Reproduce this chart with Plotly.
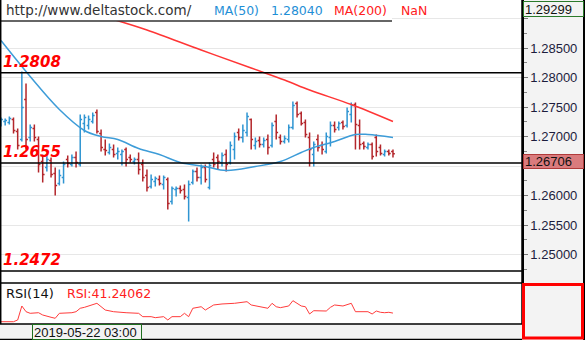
import plotly.graph_objects as go

# ---------------- data ----------------
bar_index = list(range(95))
open_ = [1.27220, 1.27254, 1.27237, 1.27288, 1.27085, 1.26949, 1.27627, 1.26983, 1.27136, 1.26949,
         1.26576, 1.26475, 1.26593, 1.26373, 1.26203, 1.26305, 1.26610, 1.26525, 1.26644, 1.26525,
         1.27220, 1.27186, 1.27254, 1.27407, 1.27051, 1.26780, 1.26729, 1.26780, 1.26712, 1.26695,
         1.26780, 1.26644, 1.26576, 1.26610, 1.26525, 1.26339, 1.26153, 1.26237, 1.26271, 1.26186,
         1.26271, 1.25898, 1.26102, 1.26119, 1.26102, 1.25966, 1.26220, 1.26407, 1.26305, 1.26475,
         1.26136, 1.26610, 1.26644, 1.26559, 1.26695, 1.26559, 1.26780, 1.27068, 1.26983, 1.27068,
         1.27288, 1.26847, 1.26932, 1.26864, 1.26949, 1.26847, 1.27254, 1.26983, 1.26915, 1.26949,
         1.27153, 1.27559, 1.27390, 1.27237, 1.26983, 1.26695, 1.26949, 1.26847, 1.26746, 1.26983,
         1.27186, 1.27153, 1.27237, 1.27186, 1.27373, 1.27542, 1.27186, 1.26881, 1.26814, 1.26864,
         1.26983, 1.26814, 1.26695, 1.26746, 1.26746]
high = [1.27322, 1.27305, 1.27339, 1.27322, 1.27136, 1.28102, 1.27898, 1.27203, 1.27203, 1.27000,
        1.26695, 1.26678, 1.26644, 1.26475, 1.26441, 1.26576, 1.26678, 1.26695, 1.26746, 1.27373,
        1.27373, 1.27356, 1.27407, 1.27458, 1.27119, 1.26949, 1.26881, 1.26864, 1.26814, 1.26780,
        1.26814, 1.26695, 1.26644, 1.26729, 1.26610, 1.26441, 1.26356, 1.26322, 1.26339, 1.26339,
        1.26305, 1.26153, 1.26153, 1.26169, 1.26186, 1.26254, 1.26441, 1.26475, 1.26525, 1.26525,
        1.26559, 1.26729, 1.26695, 1.26729, 1.26780, 1.26915, 1.27068, 1.27136, 1.27203, 1.27407,
        1.27305, 1.26983, 1.27000, 1.26983, 1.27034, 1.27237, 1.27373, 1.27034, 1.27017, 1.27203,
        1.27593, 1.27593, 1.27424, 1.27288, 1.27068, 1.26915, 1.27034, 1.26915, 1.27068, 1.27254,
        1.27254, 1.27254, 1.27271, 1.27492, 1.27576, 1.27576, 1.27288, 1.26915, 1.26898, 1.26898,
        1.27034, 1.26864, 1.26780, 1.26780, 1.26780]
low = [1.27169, 1.27186, 1.27203, 1.27051, 1.26780, 1.26915, 1.26780, 1.26915, 1.26915, 1.26390,
       1.26220, 1.26407, 1.26305, 1.26000, 1.26169, 1.26203, 1.26475, 1.26492, 1.26475, 1.26492,
       1.27068, 1.27119, 1.27220, 1.27051, 1.26746, 1.26678, 1.26695, 1.26644, 1.26610, 1.26508,
       1.26492, 1.26559, 1.26525, 1.26356, 1.26237, 1.26068, 1.26119, 1.26153, 1.26169, 1.26102,
       1.25763, 1.25847, 1.25983, 1.26034, 1.25932, 1.25559, 1.26186, 1.26237, 1.26186, 1.26220,
       1.26102, 1.26475, 1.26441, 1.26492, 1.26407, 1.26525, 1.26610, 1.26932, 1.26898, 1.27000,
       1.26780, 1.26780, 1.26814, 1.26814, 1.26695, 1.26814, 1.26949, 1.26864, 1.26881, 1.26898,
       1.27119, 1.27322, 1.27186, 1.26983, 1.26492, 1.26492, 1.26746, 1.26695, 1.26712, 1.26830,
       1.27068, 1.27102, 1.27119, 1.27153, 1.27237, 1.26780, 1.26780, 1.26780, 1.26780, 1.26610,
       1.26661, 1.26678, 1.26661, 1.26678, 1.26644]
close = [1.27288, 1.27271, 1.27305, 1.27102, 1.26847, 1.27492, 1.26949, 1.27153, 1.26983, 1.26525,
         1.26356, 1.26610, 1.26356, 1.26169, 1.26339, 1.26525, 1.26542, 1.26644, 1.26559, 1.27288,
         1.27322, 1.27288, 1.27356, 1.27085, 1.26814, 1.26763, 1.26814, 1.26695, 1.26746, 1.26746,
         1.26610, 1.26610, 1.26610, 1.26441, 1.26305, 1.26136, 1.26271, 1.26288, 1.26203, 1.26305,
         1.25864, 1.26119, 1.26119, 1.26085, 1.25983, 1.26186, 1.26407, 1.26305, 1.26475, 1.26271,
         1.26508, 1.26525, 1.26576, 1.26678, 1.26525, 1.26847, 1.27000, 1.26983, 1.27102, 1.27339,
         1.26949, 1.26915, 1.26864, 1.26932, 1.26814, 1.27186, 1.27068, 1.26915, 1.26966, 1.27153,
         1.27525, 1.27373, 1.27220, 1.27034, 1.26780, 1.26864, 1.26814, 1.26780, 1.27000, 1.27186,
         1.27119, 1.27220, 1.27170, 1.27424, 1.27525, 1.27203, 1.26864, 1.26830, 1.26864, 1.26661,
         1.26746, 1.26712, 1.26746, 1.26712, 1.26706]

ma50_idx = [0, 7, 14, 20, 24, 28, 33, 38, 43, 49, 54, 61, 67, 72, 75, 80, 85, 88, 94]
ma50_val = [1.28627, 1.28017, 1.27458, 1.27102, 1.27000, 1.26949, 1.26797, 1.26695, 1.26559, 1.26492,
            1.26424, 1.26492, 1.26576, 1.26729, 1.26814, 1.26915, 1.27034, 1.27034, 1.26983]

ma200_idx = [27, 35, 48, 60, 68, 74, 84, 94]
ma200_val = [1.28983, 1.28805, 1.28466, 1.28161, 1.27958, 1.27788, 1.27542, 1.27254]

rsi_idx = [0, 3, 4, 5, 6, 7, 9, 10, 12, 13, 14, 16, 17, 18, 19, 20, 23, 25, 27, 30, 33, 34, 36, 37, 39,
           40, 41, 43, 44, 45, 46, 48, 49, 51, 53, 56, 59, 60, 62, 64, 65, 66, 67, 69, 70, 71, 72, 73,
           74, 75, 77, 78, 79, 80, 82, 84, 85, 87, 88, 89, 90, 91, 92, 93, 94]
rsi_val = [28.4, 28.4, 31.0, 51.8, 43.3, 40.9, 41.8, 38.4, 35.0, 33.5, 40.9, 40.9, 41.8, 43.3, 48.4,
           49.8, 55.8, 45.8, 43.3, 41.8, 40.9, 35.9, 35.9, 34.4, 35.9, 31.0, 35.9, 35.9, 40.9, 35.9,
           48.4, 50.7, 45.8, 53.3, 54.8, 55.8, 58.2, 53.3, 50.7, 48.4, 55.8, 50.7, 49.3, 51.8, 59.7,
           55.8, 51.8, 50.7, 39.9, 44.8, 44.8, 44.3, 49.8, 53.3, 51.8, 55.8, 43.3, 43.3, 43.3, 39.9,
           44.3, 42.4, 41.8, 42.4, 41.24]

levels = [1.2808, 1.2655, 1.2472]
level_labels = ["1.2808", "1.2655", "1.2472"]

price_ticks = [1.250, 1.255, 1.260, 1.265, 1.270, 1.275, 1.280, 1.285, 1.290]
hidden_ticks = [1.265, 1.290]   # covered by the price boxes in the reference

last_price = 1.26706
top_price = 1.29299
header_url = "http://www.deltastock.com/"
ma50_label, ma50_text = "MA(50)", "1.28040"
ma200_label, ma200_text = "MA(200)", "NaN"
rsi_label, rsi_text = "RSI(14)", "RSI:41.24062"
date_label = "2019-05-22 03:00"

# ---------------- geometry helpers ----------------
PW, PH = 522.0, 324.0  # plot area in pixels


def px(xp):
    return xp / PW


def py(yp):
    return 1 - yp / PH


fig = go.Figure()
fig.add_trace(go.Ohlc(
    x=bar_index, open=open_, high=high, low=low, close=close,
    increasing=dict(line=dict(color="#2f95d2", width=1.5)),
    decreasing=dict(line=dict(color="#b3262b", width=1.5)),
    tickwidth=0.45, hoverinfo="skip", showlegend=False, xaxis="x", yaxis="y"))
fig.add_trace(go.Scatter(x=ma50_idx, y=ma50_val, mode="lines",
                         line=dict(color="#3d9cd8", width=1.5, shape="spline"),
                         hoverinfo="skip", showlegend=False, yaxis="y"))
fig.add_trace(go.Scatter(x=ma200_idx, y=ma200_val, mode="lines",
                         line=dict(color="#ff3535", width=1.5, shape="spline"),
                         hoverinfo="skip", showlegend=False, yaxis="y"))
fig.add_trace(go.Scatter(x=rsi_idx, y=rsi_val, mode="lines",
                         line=dict(color="#ff3b3b", width=1),
                         hoverinfo="skip", showlegend=False, yaxis="y2"))

shapes = []
# header box
shapes.append(dict(type="rect", xref="paper", yref="paper", x0=0, x1=px(392), y0=py(21), y1=1,
                   fillcolor="white", line=dict(width=0), layer="above"))
shapes.append(dict(type="line", xref="paper", yref="paper", x0=0, x1=px(392), y0=py(21), y1=py(21),
                   line=dict(color="#333333", width=1.5), layer="above"))
# level lines
for lv in levels:
    shapes.append(dict(type="line", xref="x domain", yref="y", x0=0, x1=1, y0=lv, y1=lv,
                       line=dict(color="black", width=1.5), layer="above"))
# frame lines
for yp in (283, 324, 339.5):
    shapes.append(dict(type="line", xref="paper", yref="paper", x0=0, x1=1, y0=py(yp), y1=py(yp),
                       line=dict(color="black", width=1.5), layer="above"))
shapes.append(dict(type="line", xref="paper", yref="paper", x0=px(0.7), x1=px(0.7), y0=0, y1=1,
                   line=dict(color="black", width=1.5), layer="above"))
shapes.append(dict(type="line", xref="paper", yref="paper", x0=1, x1=1, y0=0, y1=1,
                   line=dict(color="black", width=1.5), layer="above"))
shapes.append(dict(type="line", xref="paper", yref="paper", x0=px(584), x1=px(584), y0=py(340), y1=1,
                   line=dict(color="black", width=2), layer="above"))
# red box on rsi axis
shapes.append(dict(type="rect", xref="paper", yref="paper", x0=px(523.5), x1=px(582.5),
                   y0=py(338), y1=py(284.5), line=dict(color="#ff0000", width=3), layer="above"))

ann = []
hdr_y = py(10)


def txt(x, y, s, color, size=13, family="DejaVu Sans", **kw):
    d = dict(xref="paper", yref="paper", x=px(x), y=y, text=s, showarrow=False,
             xanchor="left", yanchor="middle", font=dict(family=family, size=size, color=color))
    d.update(kw)
    return d


ann.append(txt(4, hdr_y, header_url, "#333333", size=13.5))
ann.append(txt(212, hdr_y, ma50_label, "#1f8fd6", size=12.5))
ann.append(txt(269, hdr_y, ma50_text, "#1f8fd6", size=12.5))
ann.append(txt(332, hdr_y, ma200_label, "#ff2020", size=12.5))
ann.append(txt(399, hdr_y, ma200_text, "#ff2020", size=12.5))

for lv, lab in zip(levels, level_labels):
    ann.append(dict(xref="paper", yref="y", x=px(1), y=lv, text="<b><i>" + lab + "</i></b>",
                    showarrow=False, xanchor="left", yanchor="bottom",
                    font=dict(family="DejaVu Sans", size=15, color="#ff0000")))

ann.append(txt(4, py(293), rsi_label, "#111111", size=13))
ann.append(txt(65, py(293), rsi_text, "#ff2020", size=12.5))

ann.append(dict(xref="paper", yref="paper", x=px(32), y=py(324.5), text=date_label, showarrow=False,
                xanchor="left", yanchor="top", width=106, height=12, align="left",
                bgcolor="#f3f3f3", bordercolor="#1e6e1e", borderwidth=1, borderpad=1,
                font=dict(family="Liberation Sans", size=13, color="#111111")))

ann.append(dict(xref="paper", yref="y", x=px(523), y=top_price, text=f"{top_price:.5f}",
                showarrow=False, xanchor="left", yanchor="top", width=57, height=12, align="left",
                bgcolor="#f3f3f3", bordercolor="#2a7a2a", borderwidth=1, borderpad=1,
                font=dict(family="Liberation Sans", size=13, color="#111111")))
ann.append(dict(xref="paper", yref="y", x=px(522.5), y=last_price, text=f"{last_price:.5f}",
                showarrow=False, xanchor="left", yanchor="top", width=57, height=11, align="left",
                bgcolor="#da7b7d", bordercolor="#b03a3a", borderwidth=1, borderpad=1,
                font=dict(family="Liberation Sans", size=13, color="#111111")))

tick_text = ["" if any(abs(t - h) < 1e-9 for h in hidden_ticks) else f"{t:.5f}" for t in price_ticks]

step_px = 4.17
x0 = -1.0 / step_px
fig.update_layout(
    width=585, height=340,
    margin=dict(l=0, r=63, t=0, b=16),
    paper_bgcolor="#f3f3f3", plot_bgcolor="white",
    showlegend=False,
    xaxis=dict(domain=[0, 1], range=[x0, x0 + PW / step_px], showgrid=False, zeroline=False,
               showticklabels=False, ticks="", showline=False, anchor="y2",
               rangeslider=dict(visible=False), fixedrange=True),
    yaxis=dict(domain=[41 / PH, 1], range=[1.24517, 1.29314], side="right", anchor="x",
               tickvals=price_ticks, ticktext=tick_text, ticks="outside", ticklen=4,
               tickcolor="#777777", showgrid=True, gridcolor="#e7e7e7", gridwidth=1,
               zeroline=False, showline=True, linecolor="black", linewidth=1.5,
               tickfont=dict(family="Liberation Sans", size=13, color="#1c1c3c"),
               minor=dict(dtick=0.0025, tick0=1.25, ticks="outside", ticklen=3,
                          tickcolor="#888888", showgrid=False)),
    yaxis2=dict(domain=[0, 41 / PH], range=[25, 86], side="right", anchor="x",
                showgrid=False, zeroline=False, showticklabels=False, showline=True,
                linecolor="black", linewidth=1.5, ticks=""),
    shapes=shapes, annotations=ann,
)

fig.write_html("out.html")
